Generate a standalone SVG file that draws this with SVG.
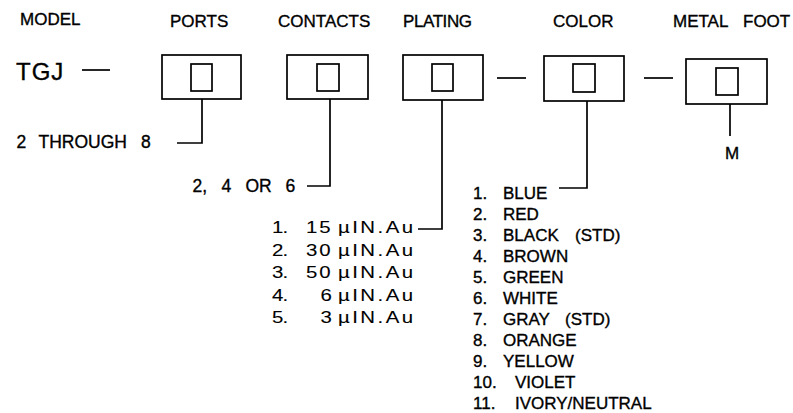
<svg xmlns="http://www.w3.org/2000/svg" width="793" height="413" viewBox="0 0 793 413">
<style>
text{font-family:"Liberation Sans",Arial,sans-serif;fill:#000;stroke:#000;stroke-width:0.35;font-size:17px}
.big{font-size:24px;letter-spacing:1px}
.lbl{font-size:17.5px}
.box{fill:#fff;stroke:#000;stroke-width:1.7}
.in{fill:none;stroke:#000;stroke-width:1.7}
.ln{fill:none;stroke:#000;stroke-width:1.7}
.lst{font-size:17px}
.pl{font-size:17px;stroke-width:0.1}
</style>
<rect width="793" height="413" fill="#fff"/>
<g id="headers">
<text x="20" y="25">MODEL</text>
<text x="170" y="27">PORTS</text>
<text x="278" y="27">CONTACTS</text>
<text x="403" y="27" textLength="69">PLATING</text>
<text x="553" y="27">COLOR</text>
<text x="673" y="27">METAL</text><text x="743" y="27">FOOT</text>
</g>
<g id="model">
<text x="16" y="80" class="big">TGJ</text>
</g>
<g id="ports">
<rect class="box" x="162" y="55" width="79" height="44"/>
<rect class="in" x="191" y="64" width="21" height="27"/>
<text x="16.5" y="148" class="lbl">2</text><text x="38.5" y="148" class="lbl">THROUGH</text><text x="141" y="148" class="lbl">8</text>
</g>
<g id="contacts">
<rect class="box" x="287" y="55" width="81" height="44"/>
<rect class="in" x="317" y="64" width="22" height="27"/>
<text x="192.5" y="192" class="lbl">2,</text><text x="221.5" y="192" class="lbl">4</text><text x="245.5" y="192" class="lbl">OR</text><text x="285.5" y="192" class="lbl">6</text>
</g>
<g id="plating">
<rect class="box" x="403" y="55" width="80" height="45"/>
<rect class="in" x="432" y="64" width="21" height="27"/>
<g transform="scale(1.2,1)">
<text x="226.7" y="233.5" class="pl" textLength="13.5">1.</text><text x="255" y="233.5" class="pl" textLength="20.5">15</text><text x="281.7" y="233.5" class="pl" textLength="62.5">µIN.Au</text>
<text x="226.7" y="256" class="pl" textLength="13.5">2.</text><text x="255" y="256" class="pl" textLength="20.5">30</text><text x="281.7" y="256" class="pl" textLength="62.5">µIN.Au</text>
<text x="226.7" y="278.5" class="pl" textLength="13.5">3.</text><text x="255" y="278.5" class="pl" textLength="20.5">50</text><text x="281.7" y="278.5" class="pl" textLength="62.5">µIN.Au</text>
<text x="226.7" y="301" class="pl" textLength="13.5">4.</text><text x="267" y="301" class="pl">6</text><text x="281.7" y="301" class="pl" textLength="62.5">µIN.Au</text>
<text x="226.7" y="323.5" class="pl" textLength="13.5">5.</text><text x="267" y="323.5" class="pl">3</text><text x="281.7" y="323.5" class="pl" textLength="62.5">µIN.Au</text>
</g>
</g>
<g id="color">
<rect class="box" x="544" y="56" width="80" height="45"/>
<rect class="in" x="573" y="64" width="22" height="28"/>
<text x="473" y="199" class="lst">1.</text><text x="503" y="199" class="lst">BLUE</text>
<text x="473" y="220" class="lst">2.</text><text x="503" y="220" class="lst">RED</text>
<text x="473" y="241" class="lst">3.</text><text x="503" y="241" class="lst">BLACK</text><text x="575" y="241" class="lst">(STD)</text>
<text x="473" y="262" class="lst">4.</text><text x="503" y="262" class="lst">BROWN</text>
<text x="473" y="283" class="lst">5.</text><text x="503" y="283" class="lst">GREEN</text>
<text x="473" y="304" class="lst">6.</text><text x="503" y="304" class="lst">WHITE</text>
<text x="473" y="325" class="lst">7.</text><text x="503" y="325" class="lst">GRAY</text><text x="565" y="325" class="lst">(STD)</text>
<text x="473" y="346" class="lst">8.</text><text x="503" y="346" class="lst">ORANGE</text>
<text x="473" y="367" class="lst">9.</text><text x="503" y="367" class="lst">YELLOW</text>
<text x="473" y="388" class="lst">10.</text><text x="515" y="388" class="lst">VIOLET</text>
<text x="473" y="409" class="lst">11.</text><text x="515" y="409" class="lst">IVORY/NEUTRAL</text>
</g>
<g id="metal-foot">
<rect class="box" x="686" y="59" width="81" height="45"/>
<rect class="in" x="716" y="68" width="22" height="27"/>
<text x="725" y="159">M</text>
</g>
<g id="connectors">
<path class="ln" d="M82,70H110"/>
<path class="ln" d="M497,78H526"/>
<path class="ln" d="M644,78H673"/>
<path class="ln" d="M202,99V143H177"/>
<path class="ln" d="M330,99V186H307"/>
<path class="ln" d="M442,100V229H418"/>
<path class="ln" d="M587,101V188H559"/>
<path class="ln" d="M730,104V136"/>
</g>
</svg>
